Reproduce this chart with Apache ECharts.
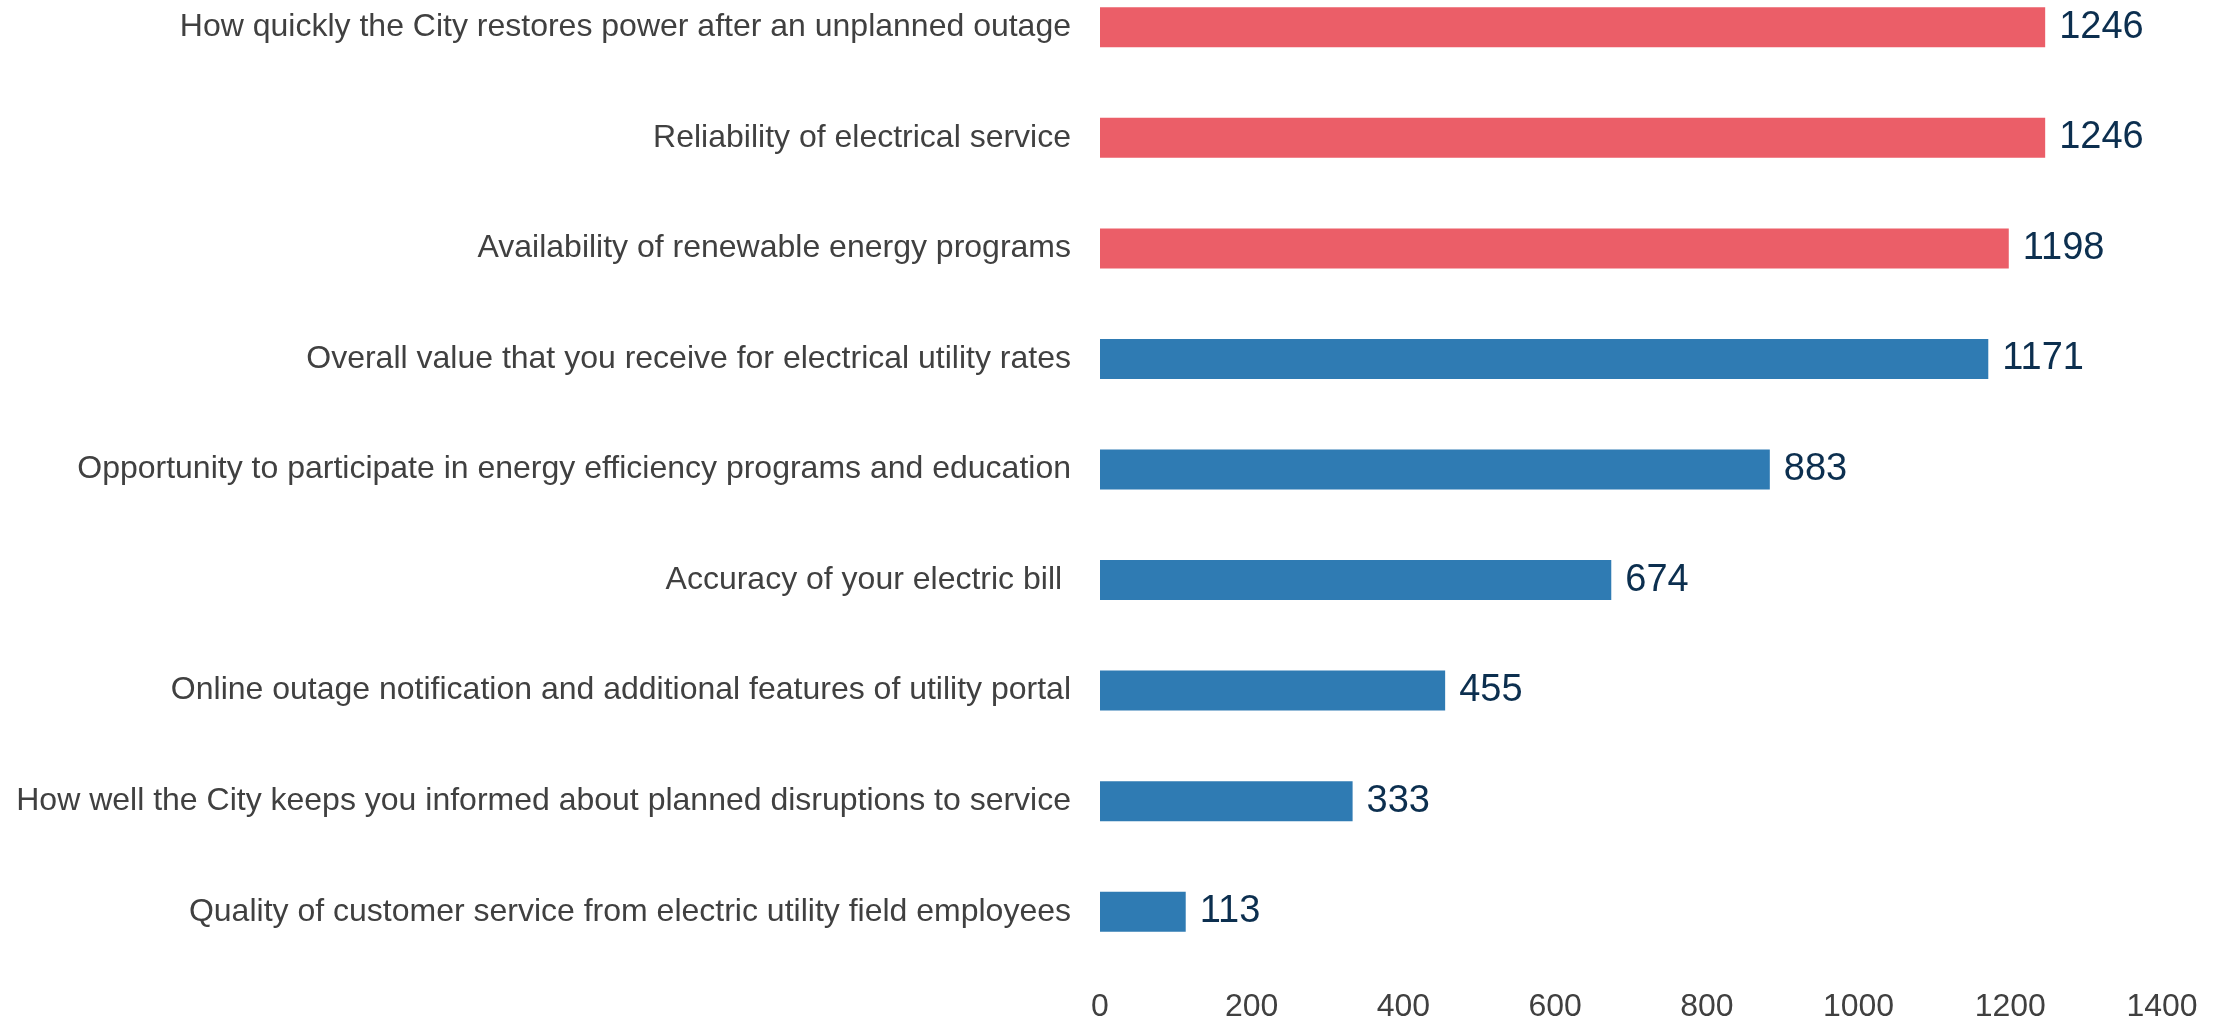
<!DOCTYPE html>
<html>
<head>
<meta charset="utf-8">
<title>Electric utility service ratings</title>
<script src="https://cdn.jsdelivr.net/npm/echarts@6/dist/echarts.min.js"></script>
<style>
  html, body { margin: 0; padding: 0; background: #fff; overflow: hidden; }
  /* the original crop cuts off the top half of the first band */
  #chart { width: 2224px; height: 1051px; margin-top: -28px; }
</style>
</head>
<body>
<div id="chart"></div>
<script>
// categories, top to bottom
const categories = [
  "How quickly the City restores power after an unplanned outage",
  "Reliability of electrical service",
  "Availability of renewable energy programs",
  "Overall value that you receive for electrical utility rates",
  "Opportunity to participate in energy efficiency programs and education",
  "Accuracy of your electric bill ",
  "Online outage notification and additional features of utility portal",
  "How well the City keeps you informed about planned disruptions to service",
  "Quality of customer service from electric utility field employees"
];
const values = [1246, 1246, 1198, 1171, 883, 674, 455, 333, 113];
// which bars are highlighted (red) vs the rest (blue)
const groups = ["top", "top", "top", "rest", "rest", "rest", "rest", "rest", "rest"];
const xTicks = [0, 200, 400, 600, 800, 1000, 1200, 1400];

const FONT = "'Liberation Sans', Arial, sans-serif";
const groupColors = { top: "#EB5E68", rest: "#2F7BB3" };

const chart = echarts.init(document.getElementById("chart"));

chart.setOption({
  animation: false,
  backgroundColor: "#fff",
  grid: {
    left: 1100,
    right: 62,
    top: 0,
    bottom: 47,
    containLabel: false
  },
  xAxis: {
    type: "value",
    min: xTicks[0],
    max: xTicks[xTicks.length - 1],
    interval: 200,
    axisLine: { show: false },
    axisTick: { show: false },
    splitLine: { show: false },
    axisLabel: {
      margin: 24,
      fontSize: 32,
      fontFamily: FONT,
      color: "#404040",
      formatter: v => String(v)
    }
  },
  yAxis: {
    type: "category",
    inverse: true,
    data: categories,
    axisLine: { show: false },
    axisTick: { show: false },
    axisLabel: {
      margin: 29,
      fontSize: 32,
      fontFamily: FONT,
      color: "#404040"
    }
  },
  series: [
    {
      type: "bar",
      barWidth: 40,
      data: values.map((v, i) => ({
        value: v,
        itemStyle: { color: groupColors[groups[i]] }
      })),
      label: {
        show: true,
        position: "right",
        distance: 14,
        fontSize: 38,
        fontFamily: FONT,
        color: "#0C2F4F"
      }
    }
  ]
});
</script>
</body>
</html>
